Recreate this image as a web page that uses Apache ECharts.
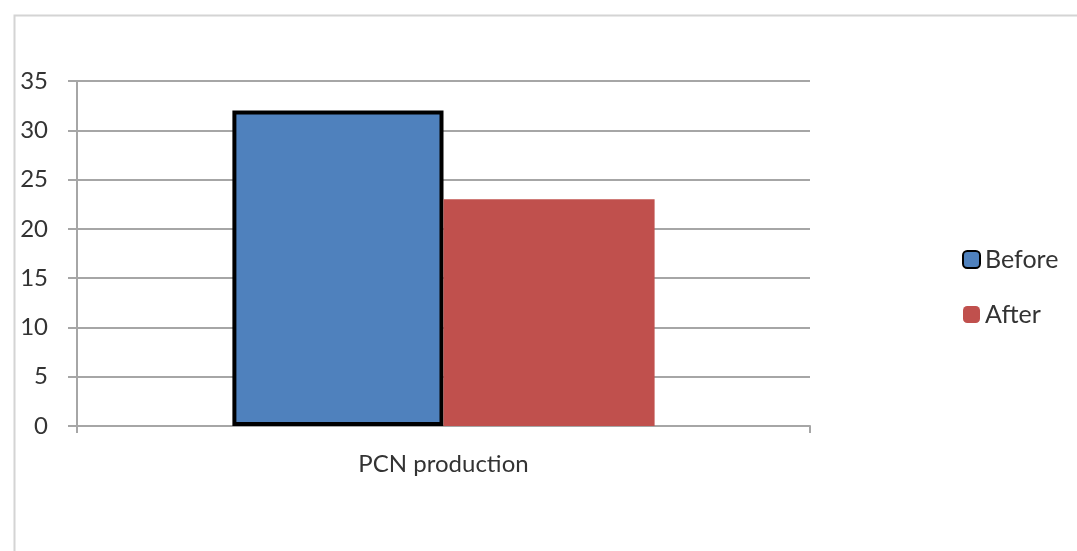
<!DOCTYPE html>
<html>
<head>
<meta charset="utf-8">
<script src="https://cdn.jsdelivr.net/npm/echarts@6/dist/echarts.min.js"></script>
<style>html,body{margin:0;padding:0;background:#fff;}#c{width:1077px;height:551px;}</style>
</head>
<body>
<div id="c"></div>
<script>
var categories = ['PCN production'];
var beforeValues = [32];
var afterValues = [23];
var yTicks = [0, 5, 10, 15, 20, 25, 30, 35];

var chart = echarts.init(document.getElementById('c'), null, {renderer: 'canvas'});
var font = 'Lato, "Open Sans", sans-serif';
chart.setOption({
  animation: false,
  backgroundColor: '#fff',
  graphic: [{
    type: 'rect', left: 12, top: 13,
    shape: {width: 1100, height: 600},
    style: {fill: 'none', stroke: '#d4d4d4', lineWidth: 2},
    silent: true
  }],
  grid: {left: 77, right: 267, top: 81, bottom: 125},
  legend: {
    orient: 'vertical', left: 957, top: 242,
    itemWidth: 17, itemHeight: 17, itemGap: 30,
    textStyle: {fontFamily: font, fontSize: 25, color: '#333'},
    data: ['Before', 'After']
  },
  xAxis: {
    type: 'category', data: categories,
    axisLine: {lineStyle: {color: '#a6a6a6', width: 2}},
    axisTick: {show: true, length: 7, lineStyle: {color: '#a6a6a6', width: 2}},
    axisLabel: {fontFamily: font, fontSize: 24, color: '#333', margin: 26}
  },
  yAxis: {
    type: 'value', min: yTicks[0], max: yTicks[yTicks.length - 1], interval: 5,
    axisLine: {show: true, lineStyle: {color: '#a6a6a6', width: 2}},
    axisTick: {show: true, inside: false, length: 9, lineStyle: {color: '#a6a6a6', width: 2}},
    splitLine: {lineStyle: {color: '#a6a6a6', width: 2}},
    axisLabel: {fontFamily: font, fontSize: 24, color: '#333', margin: 29}
  },
  series: [
    {name: 'Before', type: 'bar', data: beforeValues, barWidth: '28.8%', barGap: '0%',
     itemStyle: {color: '#4F81BD', borderColor: '#000', borderWidth: 4}},
    {name: 'After', type: 'bar', data: afterValues, barWidth: '28.8%', barGap: '0%',
     itemStyle: {color: '#C0504D'}}
  ]
});
</script>
</body>
</html>
